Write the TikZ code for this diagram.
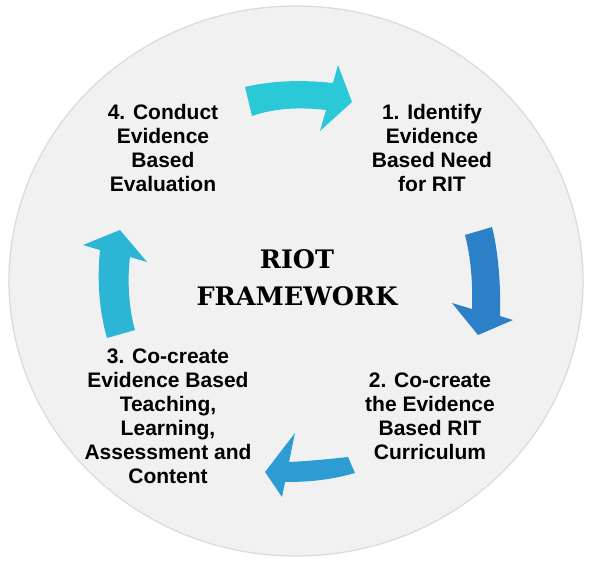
\documentclass[tikz,border=0pt]{standalone}
\usepackage{fontspec}
\setmainfont{Liberation Sans}
\newfontfamily\slabfont{DejaVu Serif}
\definecolor{circleFill}{HTML}{F1F1F1}
\definecolor{circleEdge}{HTML}{DADADA}
\definecolor{arrowTop}{HTML}{2BC9D7}
\definecolor{arrowRight}{HTML}{2B80C7}
\definecolor{arrowBottom}{HTML}{2C9CD3}
\definecolor{arrowLeft}{HTML}{2CB5D4}

\begin{document}
\begin{tikzpicture}[x = 1pt, y = -1pt]
\tikzstyle{stepStyle} = [align = center, inner sep = 0pt, font = \bfseries\fontsize{21}{24}\selectfont]
\tikzstyle{titleStyle} = [align = center, inner sep = 0pt, font = \slabfont\bfseries\fontsize{25.5}{37}\selectfont]
\tikzstyle{discStyle} = [fill = circleFill, draw = circleEdge, line width = 1.2pt]
\fill[white] (0,0) rectangle (592,565);
\useasboundingbox (0,0) rectangle (592,565);
\filldraw[style = discStyle] (296,281) ellipse [x radius = 287, y radius = 275];
\fill[arrowTop] (245,87) .. controls (275,80) and (305,80) .. (333,83) -- (338,65) -- (352,102) -- (320,131) -- (326,110) .. controls (300,107) and (275,108) .. (252,116) -- cycle;
\fill[arrowRight] (465,235) -- (492,227) .. controls (498,250) and (501,285) .. (500,316) -- (513,320) -- (478,335) -- (452,303) -- (472,309) .. controls (473,285) and (471,258) .. (465,235) -- cycle;
\fill[arrowBottom] (355,473) .. controls (330,480) and (310,482) .. (285,482) -- (282,497) -- (265,472) -- (295,433) -- (289,462) .. controls (310,461) and (330,459) .. (348,457) -- cycle;
\fill[arrowLeft] (107,338) .. controls (99,310) and (97,280) .. (100,250) -- (83,245) -- (120,230) -- (147,262) -- (130,257) .. controls (127,280) and (129,310) .. (135,330) -- cycle;
\node[style = titleStyle] (title) at (297,278) {RIOT\\FRAMEWORK};
\node[style = stepStyle] (step1) at (432,148) {1. Identify\\Evidence\\Based Need\\for RIT};
\node[style = stepStyle] (step2) at (430,416) {2. Co-create\\the Evidence\\Based RIT\\Curriculum};
\node[style = stepStyle] (step3) at (168,416) {3. Co-create\\Evidence Based\\Teaching,\\Learning,\\Assessment and\\Content};
\node[style = stepStyle] (step4) at (163,148) {4. Conduct\\Evidence\\Based\\Evaluation};
\end{tikzpicture}
\end{document}
